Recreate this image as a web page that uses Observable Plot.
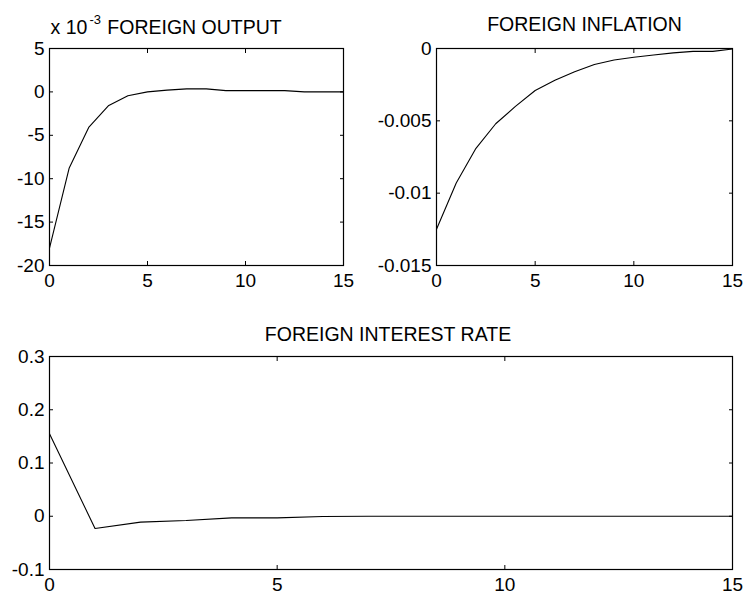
<!DOCTYPE html>
<html>
<head>
<meta charset="utf-8">
<script src="https://cdn.jsdelivr.net/npm/d3@7"></script>
<script src="https://cdn.jsdelivr.net/npm/@observablehq/plot@0.6"></script>
<style>
  html, body { margin: 0; padding: 0; background: #fff; }
  #wrap { position: relative; width: 743px; height: 594px; overflow: hidden; background: #fff; }
  .panel { position: absolute; }
  svg { overflow: visible; }
</style>
</head>
<body>
<div id="wrap">
  <div class="panel" id="p1" style="left:0;top:0"></div>
  <div class="panel" id="p2" style="left:380px;top:0"></div>
  <div class="panel" id="p3" style="left:0;top:300px"></div>
</div>
<script>
// ---- data ----
const periods = [0, 1, 2, 3, 4, 5, 6, 7, 8, 9, 10, 11, 12, 13, 14, 15];
// foreign output, in units of 1e-3
const outputVals = [-18.0, -8.8, -4.1, -1.6, -0.45, 0.0, 0.2, 0.35, 0.35, 0.15, 0.15, 0.15, 0.15, 0.0, 0.0, 0.0];
const inflationVals = [-0.0125, -0.0093, -0.0069, -0.0052, -0.0040, -0.0029, -0.0022, -0.0016, -0.0011, -0.0008, -0.0006, -0.00045, -0.0003, -0.0002, -0.0002, -0.00003];
const interestVals = [0.155, -0.023, -0.011, -0.008, -0.003, -0.003, -0.0005, 0, 0, 0, 0, 0, 0, 0, 0, 0];

const xTicks = [0, 5, 10, 15];
const outputTicks = [5, 0, -5, -10, -15, -20];
const inflationTicks = [0, -0.005, -0.01, -0.015];
const interestTicks = [0.3, 0.2, 0.1, 0, -0.1];

const titles = ["FOREIGN OUTPUT", "FOREIGN INFLATION", "FOREIGN INTEREST RATE"];
const scaleNote = ["x 10", "-3"];

const FONT = "Liberation Sans, Arial, Helvetica, sans-serif";
const TICK_FS = 19;
const TITLE_FS = 19.5;

function panel({width, height, ml, mr, mt, mb, yDomain, yTicks, values, extra = []}) {
  const data = periods.map((p, i) => ({x: p, y: values[i]}));
  const fmt = d => String(d);
  return Plot.plot({
    width, height,
    marginLeft: ml, marginRight: mr, marginTop: mt, marginBottom: mb,
    style: {fontFamily: FONT, background: "#fff", color: "#000", overflow: "visible"},
    x: {domain: [0, 15], label: null},
    y: {domain: yDomain, label: null},
    marks: [
      Plot.frame({stroke: "#000", strokeWidth: 1.2}),
      Plot.line(data, {x: "x", y: "y", stroke: "#000", strokeWidth: 1.1}),
      // inward ticks, all four sides
      Plot.axisX(xTicks, {anchor: "bottom", tickSize: -4, fill: "none", label: null, stroke: "#000"}),
      Plot.axisX(xTicks, {anchor: "top", tickSize: -4, fill: "none", label: null, stroke: "#000"}),
      Plot.axisY(yTicks, {anchor: "left", tickSize: -4, fill: "none", label: null, stroke: "#000"}),
      Plot.axisY(yTicks, {anchor: "right", tickSize: -4, fill: "none", label: null, stroke: "#000"}),
      // tick labels
      Plot.axisX(xTicks, {anchor: "bottom", tickSize: 0, tickPadding: 8, tickFormat: fmt, fontSize: TICK_FS, label: null, fill: "#000"}),
      Plot.axisY(yTicks, {anchor: "left", tickSize: 0, tickPadding: 5, tickFormat: fmt, fontSize: TICK_FS, label: null, fill: "#000"}),
      ...extra
    ]
  });
}

// Top-left: foreign output
document.getElementById("p1").appendChild(panel({
  width: 380, height: 300, ml: 49, mr: 37, mt: 48, mb: 35,
  yDomain: [-20, 5], yTicks: outputTicks, values: outputVals,
  extra: [
    Plot.text([titles[0]], {frameAnchor: "top", text: d => d, dx: -2, dy: -21, fontSize: TITLE_FS, fill: "#000", lineAnchor: "middle"}),
    Plot.text([scaleNote[0]], {frameAnchor: "top-left", text: d => d, dx: 1, dy: -21, fontSize: TITLE_FS, fill: "#000", textAnchor: "start", lineAnchor: "middle"}),
    Plot.text([scaleNote[1]], {frameAnchor: "top-left", text: d => d, dx: 40, dy: -29, fontSize: 13, fill: "#000", textAnchor: "start", lineAnchor: "middle"})
  ]
}));

// Top-right: foreign inflation
document.getElementById("p2").appendChild(panel({
  width: 363, height: 300, ml: 56, mr: 11, mt: 48, mb: 35,
  yDomain: [-0.015, 0], yTicks: inflationTicks, values: inflationVals,
  extra: [
    Plot.text([titles[1]], {frameAnchor: "top", text: d => d, dy: -24, fontSize: TITLE_FS, fill: "#000", lineAnchor: "middle"})
  ]
}));

// Bottom: foreign interest rate
document.getElementById("p3").appendChild(panel({
  width: 743, height: 294, ml: 49, mr: 11, mt: 56, mb: 25,
  yDomain: [-0.1, 0.3], yTicks: interestTicks, values: interestVals,
  extra: [
    Plot.text([titles[2]], {frameAnchor: "top", text: d => d, dx: -3, dy: -22, fontSize: TITLE_FS, fill: "#000", lineAnchor: "middle"})
  ]
}));
</script>
</body>
</html>
